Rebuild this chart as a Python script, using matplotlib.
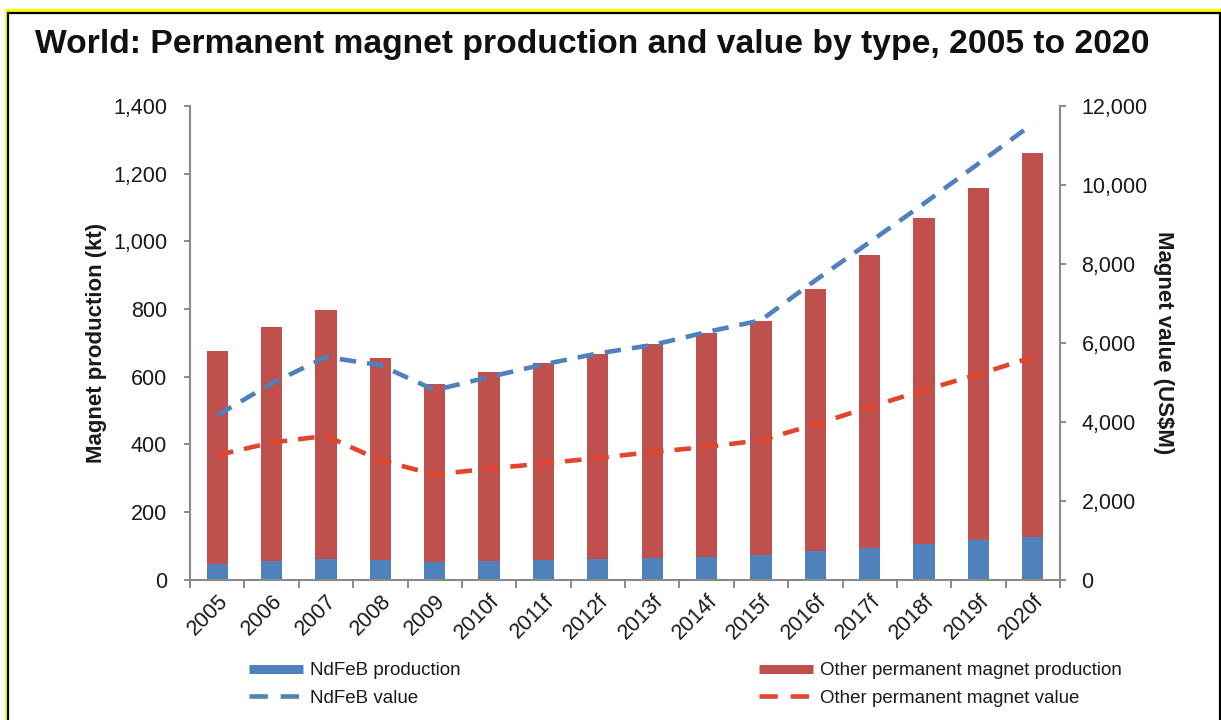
import matplotlib
matplotlib.use("Agg")
import matplotlib.pyplot as plt
from matplotlib.patches import Rectangle
from matplotlib.lines import Line2D
from matplotlib.ticker import FuncFormatter, FixedLocator

plt.rcParams['font.family'] = ['Liberation Sans', 'DejaVu Sans']

years = ['2005', '2006', '2007', '2008', '2009', '2010f', '2011f', '2012f',
         '2013f', '2014f', '2015f', '2016f', '2017f', '2018f', '2019f', '2020f']
total_production = [676, 748, 797, 655, 577, 614, 639, 668,
                    697, 730, 763, 859, 959, 1070, 1159, 1261]
ndfeb_production = [45, 54, 60, 57, 51, 55, 58, 60,
                    64, 68, 71, 83, 92, 104, 117, 125]
other_production = [t - n for t, n in zip(total_production, ndfeb_production)]
ndfeb_value = [4160, 4970, 5640, 5430, 4800, 5130, 5450, 5730,
               5940, 6270, 6570, 7580, 8550, 9530, 10540, 11550]
other_value = [3150, 3470, 3640, 3020, 2660, 2810, 2940, 3080,
               3230, 3360, 3530, 3930, 4370, 4800, 5200, 5640]

BLUE = '#4F81BD'
RED = '#C0504D'
RED_LINE = '#E2452B'
AX_GRAY = '#8A8A8A'
TXT = '#1A1A1A'

W, H = 1221, 720
fig = plt.figure(figsize=(W / 100, H / 100), dpi=100)
fig.patch.set_facecolor('white')

def fx(px):
    return px / W

def fy(py):
    return 1 - py / H

# Yellow frame and black frame
fig.patches.append(Rectangle((fx(5), fy(740)), fx(1240) - fx(5), fy(9) - fy(740),
                             transform=fig.transFigure, facecolor='#FFFF00',
                             edgecolor='none', zorder=-20))
fig.patches.append(Rectangle((fx(8), fy(740)), fx(1219.5) - fx(8), fy(13) - fy(740),
                             transform=fig.transFigure, facecolor='white',
                             edgecolor='black', linewidth=1.6, zorder=-19))

ax = fig.add_axes([fx(190), fy(579.5), fx(1060) - fx(190), fy(106) - fy(579.5)])
ax2 = ax.twinx()
ax.set_zorder(1)
ax2.set_zorder(2)
ax.patch.set_visible(False)
ax2.patch.set_visible(False)

x = list(range(len(years)))
ax.bar(x, ndfeb_production, width=0.39, color=BLUE, zorder=2)
ax.bar(x, other_production, width=0.39, bottom=ndfeb_production, color=RED, zorder=2)

lw = 3.3
ax2.plot(x, ndfeb_value, color=BLUE, lw=lw, dashes=(3.6, 2.4))
ax2.plot(x, other_value, color=RED_LINE, lw=lw, dashes=(3.6, 2.4))

ax.set_xlim(-0.5, len(years) - 0.5)
ax.set_ylim(0, 1400)
ax2.set_ylim(0, 12000)
ax.set_yticks(range(0, 1401, 200))
ax2.set_yticks(range(0, 12001, 2000))
fmt = FuncFormatter(lambda v, p: f'{int(v):,}')
ax.yaxis.set_major_formatter(fmt)
ax2.yaxis.set_major_formatter(fmt)

ax.set_xticks(x)
ax.set_xticklabels(years, rotation=45, ha='right', rotation_mode='anchor')
ax.xaxis.set_minor_locator(FixedLocator([i - 0.5 for i in range(len(years) + 1)]))
ax.tick_params(axis='x', which='major', length=0, pad=8, labelsize=15.5, labelcolor=TXT)
ax.tick_params(axis='x', which='minor', length=5.5, width=1.4, color=AX_GRAY, direction='out')
ax.tick_params(axis='y', length=4.5, width=1.4, color=AX_GRAY, pad=12, labelsize=15.5, labelcolor=TXT)
ax2.tick_params(axis='y', length=4.5, width=1.4, color=AX_GRAY, pad=11, labelsize=15.5, labelcolor=TXT)

for a in (ax, ax2):
    for s in a.spines.values():
        s.set_color(AX_GRAY)
        s.set_linewidth(1.5)
    a.spines['top'].set_visible(False)
ax2.spines['bottom'].set_visible(False)
ax2.spines['left'].set_visible(False)
ax.spines['right'].set_visible(False)

ax.set_ylabel('Magnet production (kt)', fontsize=16, fontweight='bold', color=TXT, labelpad=4)
ax2.set_ylabel('Magnet value (US$M)', fontsize=16, fontweight='bold', color=TXT,
               rotation=-90, labelpad=19)

fig.text(fx(35), fy(44), 'World: Permanent magnet production and value by type, 2005 to 2020',
         fontsize=24.2, fontweight='bold', color='#111111', ha='left', va='center')

# Legends
h1 = [Line2D([], [], color=BLUE, lw=6.5, solid_capstyle='butt'),
      Line2D([], [], color=BLUE, lw=lw, dashes=(4.0, 2.8))]
h2 = [Line2D([], [], color=RED, lw=6.5, solid_capstyle='butt'),
      Line2D([], [], color=RED_LINE, lw=lw, dashes=(4.0, 2.8))]
leg_kw = dict(frameon=False, fontsize=13.5, handlelength=2.9, handletextpad=0.35,
              labelspacing=0.55, borderpad=0, borderaxespad=0, loc='center left',
              bbox_transform=fig.transFigure, labelcolor=TXT)
l1 = fig.legend(h1, ['NdFeB production', 'NdFeB value'],
                bbox_to_anchor=(fx(249), fy(684.5)), **leg_kw)
l2 = fig.legend(h2, ['Other permanent magnet production', 'Other permanent magnet value'],
                bbox_to_anchor=(fx(759), fy(684.5)), **leg_kw)

fig.savefig('out.png', dpi=100)
